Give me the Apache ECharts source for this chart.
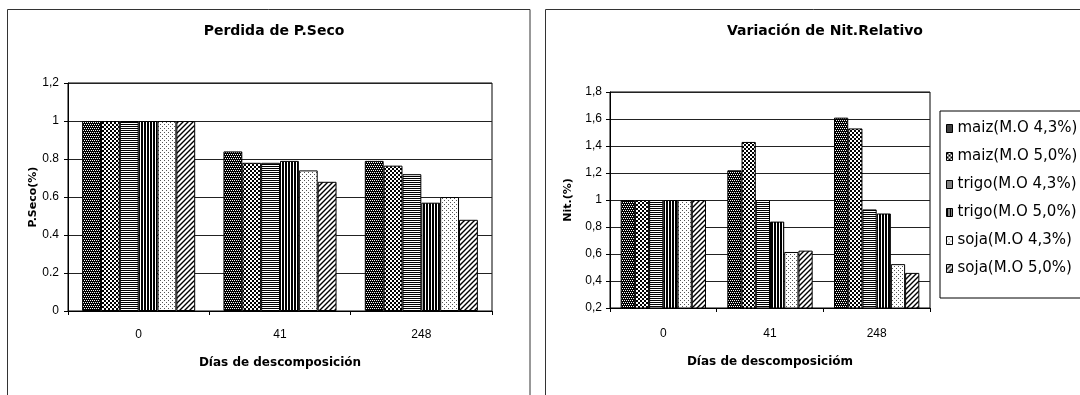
<!DOCTYPE html>
<html><head><meta charset="utf-8">
<script src="https://cdn.jsdelivr.net/npm/echarts@6/dist/echarts.min.js"></script>
<style>html,body{margin:0;padding:0;background:#fff}#c{width:1080px;height:395px}</style>
</head><body><div id="c"></div>
<script>
// ---- data ----
const categories = ['0', '41', '248'];
const seriesNames = ['maiz(M.O 4,3%)', 'maiz(M.O 5,0%)', 'trigo(M.O 4,3%)', 'trigo(M.O 5,0%)', 'soja(M.O 4,3%)', 'soja(M.O 5,0%)'];
const pSecoMaiz43 = [1, 0.84, 0.79];
const pSecoMaiz50 = [1, 0.78, 0.765];
const pSecoTrigo43 = [1, 0.78, 0.72];
const pSecoTrigo50 = [1, 0.79, 0.57];
const pSecoSoja43 = [1, 0.74, 0.60];
const pSecoSoja50 = [1, 0.68, 0.48];
const nitMaiz43 = [1, 1.22, 1.61];
const nitMaiz50 = [1, 1.43, 1.53];
const nitTrigo43 = [1, 1.0, 0.93];
const nitTrigo50 = [1, 0.84, 0.90];
const nitSoja43 = [1, 0.615, 0.525];
const nitSoja50 = [1, 0.625, 0.46];
const yTicksLeft = ['0', '0.2', '0.4', '0.6', '0.8', '1', '1,2'];
const yTicksRight = ['0,2', '0,4', '0,6', '0,8', '1', '1,2', '1,4', '1,6', '1,8'];

// ---- fill patterns ----
function tile(w, h, draw) {
  const c = document.createElement('canvas');
  c.width = w; c.height = h;
  const x = c.getContext('2d');
  x.fillStyle = '#fff'; x.fillRect(0, 0, w, h);
  draw(x);
  return { image: c, repeat: 'repeat' };
}
function px(x, col, i, j, w, h) { x.fillStyle = col; x.fillRect(i, j, w || 1, h || 1); }
const patterns = [
  tile(4, 4, x => { px(x, '#000', 0, 0, 4, 4); px(x, '#fff', 0, 0); px(x, '#fff', 2, 0); px(x, '#fff', 1, 2); px(x, '#fff', 3, 2); }),
  tile(4, 4, x => { px(x, '#000', 0, 0, 2, 2); px(x, '#000', 2, 2, 2, 2); }),
  tile(1, 2, x => { px(x, '#000', 0, 0); }),
  tile(3, 1, x => { px(x, '#000', 0, 0, 2, 1); }),
  tile(4, 4, x => { px(x, '#555', 0, 0); px(x, '#555', 2, 2); }),
  tile(5, 5, x => {
    x.strokeStyle = '#000'; x.lineWidth = 1.4;
    x.beginPath();
    x.moveTo(0, 5); x.lineTo(5, 0);
    x.moveTo(-1, 1); x.lineTo(1, -1);
    x.moveTo(4, 6); x.lineTo(6, 4);
    x.stroke();
  })
];

const leftData = [pSecoMaiz43, pSecoMaiz50, pSecoTrigo43, pSecoTrigo50, pSecoSoja43, pSecoSoja50];
const rightData = [nitMaiz43, nitMaiz50, nitTrigo43, nitTrigo50, nitSoja43, nitSoja50];

const tickFont = { fontFamily: 'Liberation Sans', fontSize: 12, color: '#000' };
const nameFont = { fontFamily: 'DejaVu Sans', fontWeight: 'bold', fontSize: 12, color: '#000' };
const yNameFont = { fontFamily: 'DejaVu Sans', fontWeight: 'bold', fontSize: 11, color: '#000' };
const titleFont = { fontFamily: 'DejaVu Sans', fontWeight: 'bold', fontSize: 14, color: '#000' };

function barSeries(data, idx) {
  return data.map((d, i) => ({
    name: seriesNames[i],
    type: 'bar',
    xAxisIndex: idx, yAxisIndex: idx,
    data: d,
    barGap: '0%',
    barCategoryGap: '20%',
    itemStyle: { color: patterns[i], borderColor: '#000', borderWidth: 1 },
    emphasis: { disabled: true }
  }));
}

const chart = echarts.init(document.getElementById('c'), null, { renderer: 'canvas' });
chart.setOption({
  animation: false,
  backgroundColor: '#fff',
  title: [
    { text: 'Perdida de P.Seco', left: 269, top: 19, textAlign: 'center', textStyle: titleFont },
    { text: 'Variación de Nit.Relativo', left: 820, top: 19, textAlign: 'center', textStyle: titleFont }
  ],
  graphic: [
    { type: 'rect', silent: true, z: -10, shape: { x: 7.5, y: 9.5, width: 522.5, height: 420 }, style: { fill: null, stroke: '#333', lineWidth: 1 } },
    { type: 'rect', silent: true, z: -10, shape: { x: 545.5, y: 9.5, width: 600, height: 420 }, style: { fill: null, stroke: '#333', lineWidth: 1 } }
  ],
  legend: {
    orient: 'vertical', left: 940, top: 111,
    data: seriesNames,
    icon: 'rect', itemWidth: 6, itemHeight: 8, itemGap: 13,
    padding: [10, 20, 22, 6],
    borderColor: '#000', borderWidth: 1,
    selectedMode: false,
    textStyle: { fontFamily: 'DejaVu Sans', fontSize: 15, color: '#000' },
    itemStyle: { borderColor: '#000', borderWidth: 1 }
  },
  grid: [
    { left: 68, top: 83, width: 424, height: 228, show: true, borderColor: '#000', borderWidth: 1 },
    { left: 610, top: 92, width: 320, height: 216, show: true, borderColor: '#000', borderWidth: 1 }
  ],
  xAxis: [
    {
      type: 'category', gridIndex: 0, data: categories,
      axisLine: { lineStyle: { color: '#000' } },
      axisTick: { show: true, length: 4, lineStyle: { color: '#000' } },
      axisLabel: Object.assign({ margin: 18 }, tickFont),
      name: 'Días de descomposición', nameLocation: 'middle', nameGap: 46, nameTextStyle: nameFont
    },
    {
      type: 'category', gridIndex: 1, data: categories,
      axisLine: { lineStyle: { color: '#000' } },
      axisTick: { show: true, length: 4, lineStyle: { color: '#000' } },
      axisLabel: Object.assign({ margin: 20 }, tickFont),
      name: 'Días de descomposicióm', nameLocation: 'middle', nameGap: 48, nameTextStyle: nameFont
    }
  ],
  yAxis: [
    {
      type: 'value', gridIndex: 0, min: 0, max: 1.2, interval: 0.2,
      axisLine: { show: true, lineStyle: { color: '#000' } },
      axisTick: { show: true, length: 4, lineStyle: { color: '#000' } },
      splitLine: { lineStyle: { color: '#222', width: 1 } },
      axisLabel: Object.assign({ margin: 9, formatter: v => yTicksLeft[Math.round(v / 0.2)] }, tickFont),
      name: 'P.Seco(%)', nameLocation: 'middle', nameGap: 29, nameTextStyle: yNameFont
    },
    {
      type: 'value', gridIndex: 1, min: 0.2, max: 1.8, interval: 0.2,
      axisLine: { show: true, lineStyle: { color: '#000' } },
      axisTick: { show: true, length: 4, lineStyle: { color: '#000' } },
      splitLine: { lineStyle: { color: '#222', width: 1 } },
      axisLabel: Object.assign({ margin: 8, formatter: v => yTicksRight[Math.round((v - 0.2) / 0.2)] }, tickFont),
      name: 'Nit.(%)', nameLocation: 'middle', nameGap: 36, nameTextStyle: yNameFont
    }
  ],
  series: barSeries(leftData, 0).concat(barSeries(rightData, 1))
});
</script>
</body></html>
